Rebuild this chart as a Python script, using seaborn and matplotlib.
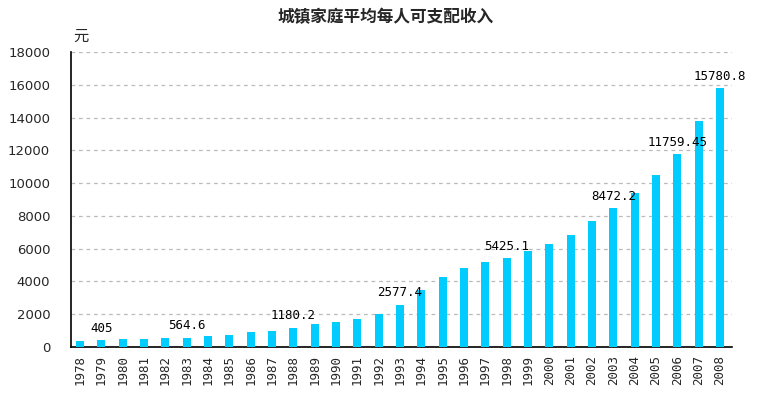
import matplotlib
matplotlib.use('Agg')
import matplotlib.pyplot as plt
import seaborn as sns
import numpy as np
import pandas as pd

# 数据
years = [str(y) for y in range(1978, 2009)]
income = [343.4, 405, 477.6, 500.4, 535.3, 564.6, 652.1, 739.1, 900.9, 1002.1,
          1180.2, 1373.9, 1510.2, 1700.6, 2026.6, 2577.4, 3496.2, 4283.0, 4838.9,
          5160.3, 5425.1, 5854.0, 6280.0, 6859.6, 7702.8, 8472.2, 9421.6, 10493.0,
          11759.45, 13785.8, 15780.8]
label_years = ['1979', '1983', '1988', '1993', '1998', '2003', '2006', '2008']
label_texts = ['405', '564.6', '1180.2', '2577.4', '5425.1', '8472.2', '11759.45', '15780.8']
yticks = list(range(0, 18001, 2000))

df = pd.DataFrame({'year': years, 'income': income})

sns.set_theme(style='white')
plt.rcParams['font.family'] = ['Noto Sans CJK SC', 'DejaVu Sans']

fig = plt.figure(figsize=(7.71, 4.13), dpi=100)
ax = fig.add_axes([71 / 771, 1 - 347 / 413, (732 - 71) / 771, (347 - 52) / 413])

sns.barplot(data=df, x='year', y='income', color='#00CCFF', saturation=1,
            width=0.38, linewidth=0, ax=ax, zorder=3)

ax.set_xlim(-0.42, 30.56)
ax.set_ylim(0, 18000)
ax.set_yticks(yticks)
ax.set_yticklabels([str(t) for t in yticks], fontsize=9.5, family='DejaVu Sans')
ax.yaxis.grid(True, linestyle=(0, (3, 3)), color='#BBBBBB', linewidth=0.9, zorder=0)
ax.set_axisbelow(True)

ax.set_xticks(range(len(years)))
ax.set_xticklabels(years, rotation=90, fontsize=9, family='DejaVu Sans Mono')
ax.tick_params(axis='x', length=0, pad=6)
ax.set_xticks(np.arange(0.5, len(years), 1), minor=True)
ax.tick_params(axis='x', which='minor', length=3, width=1, color='black', direction='out')
ax.tick_params(axis='y', length=3, width=1, color='black', direction='out', pad=12)

for s in ['top', 'right']:
    ax.spines[s].set_visible(False)
for s in ['left', 'bottom']:
    ax.spines[s].set_color('black')
    ax.spines[s].set_linewidth(1.2)

ax.set_xlabel('')
ax.set_ylabel('')

for yr, txt in zip(label_years, label_texts):
    i = years.index(yr)
    ax.annotate(txt, (i, income[i]), xytext=(0, 4), textcoords='offset points',
                ha='center', va='bottom', fontsize=9, family='DejaVu Sans Mono',
                color='black', zorder=5)

ax.text(0.003, 1.025, '元', transform=ax.transAxes, fontsize=11, ha='left', va='bottom')
fig.text(0.5, 1 - 17 / 413, '城镇家庭平均每人可支配收入', ha='center', va='center',
         fontsize=12, fontweight='bold')

fig.savefig('out.png', dpi=100)
